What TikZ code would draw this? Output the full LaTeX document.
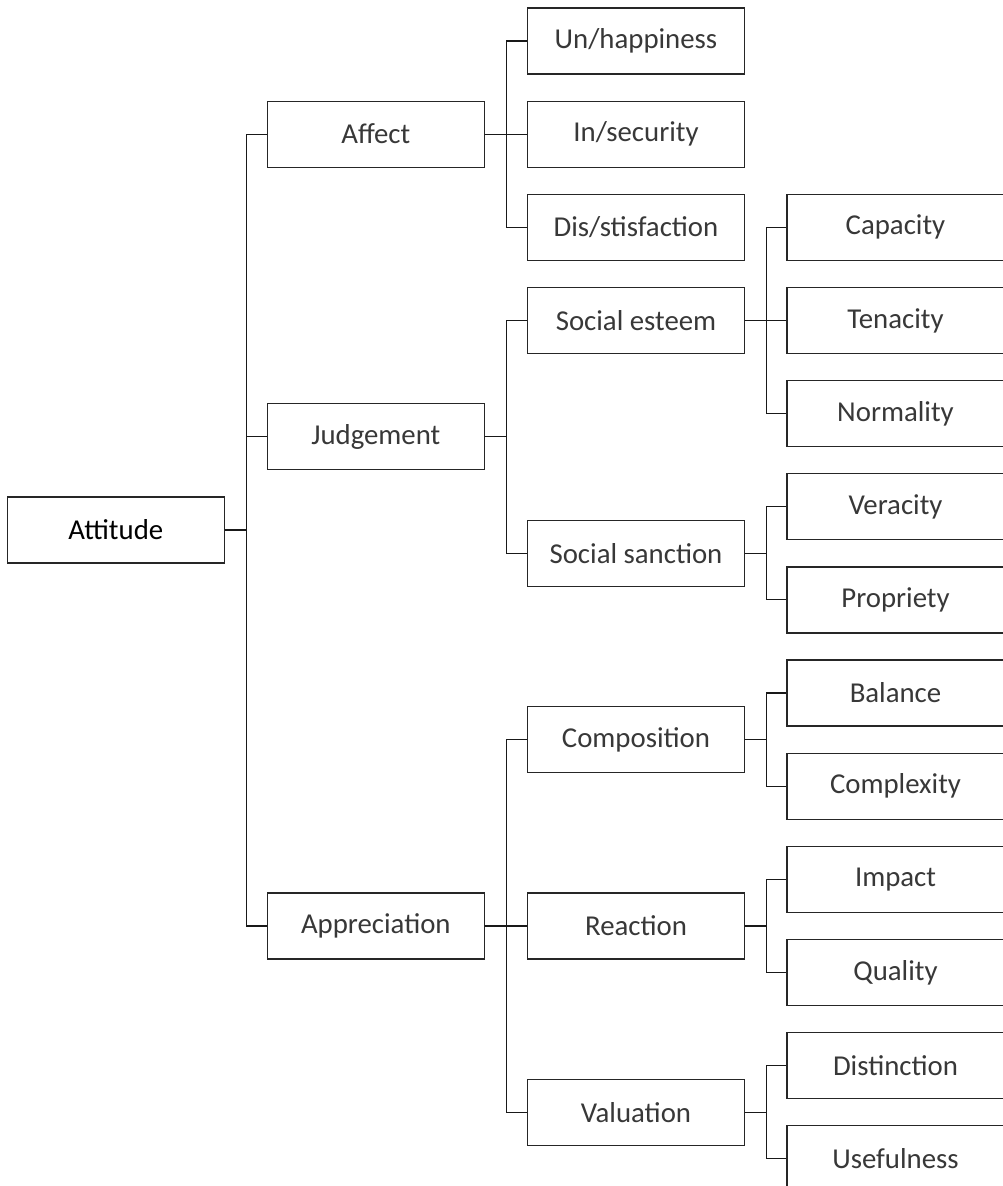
\documentclass[tikz,border=0pt]{standalone}
\usepackage{fontspec}
\setmainfont{Carlito}
\begin{document}
\begin{tikzpicture}[x=0.75pt,y=-0.75pt,
  box/.style={draw=black!85,line width=0.9pt,fill=white,
    minimum width=162.75pt,minimum height=49.5pt,inner sep=0pt,
    font=\fontsize{21.6}{25}\selectfont,text=black!78},
  rootbox/.style={box,text=black},
  link/.style={draw=black!90,line width=0.85pt}]
\useasboundingbox (0,0) rectangle (1003,1186);
\clip (0,0) rectangle (1003,1186);
% column centres and row grid
\def\cA{115.8}\def\cB{375.8}\def\cC{636}\def\cD{895.5}
\def\rowy#1{227.3+93.15*(#1)}
% root
\node[rootbox] (attitude) at (\cA,{\rowy{3.25}}) {Attitude};
% first level
\node[box] (affect)   at (\cB,{\rowy{-1}})   {Affect};
\node[box] (judge)    at (\cB,{\rowy{2.25}}) {Judgement};
\node[box] (apprec)   at (\cB,{\rowy{7.5}})  {Appreciation};
% second level
\node[box] (unhappy)  at (\cC,{\rowy{-2}})   {Un/happiness};
\node[box] (insecure) at (\cC,{\rowy{-1}})   {In/security};
\node[box] (dissat)   at (\cC,{\rowy{0}})    {Dis/stisfaction};
\node[box] (esteem)   at (\cC,{\rowy{1}})    {Social esteem};
\node[box] (sanction) at (\cC,{\rowy{3.5}})  {Social sanction};
\node[box] (compos)   at (\cC,{\rowy{5.5}})  {Composition};
\node[box] (react)    at (\cC,{\rowy{7.5}})  {Reaction};
\node[box] (valu)     at (\cC,{\rowy{9.5}})  {Valuation};
% third level
\node[box] (capacity) at (\cD,{\rowy{0}})  {Capacity};
\node[box] (tenacity) at (\cD,{\rowy{1}})  {Tenacity};
\node[box] (normal)   at (\cD,{\rowy{2}})  {Normality};
\node[box] (veracity) at (\cD,{\rowy{3}})  {Veracity};
\node[box] (propriety)at (\cD,{\rowy{4}})  {Propriety};
\node[box] (balance)  at (\cD,{\rowy{5}})  {Balance};
\node[box] (complex)  at (\cD,{\rowy{6}})  {Complexity};
\node[box] (impact)   at (\cD,{\rowy{7}})  {Impact};
\node[box] (quality)  at (\cD,{\rowy{8}})  {Quality};
\node[box] (distinct) at (\cD,{\rowy{9}})  {Distinction};
\node[box] (useful)   at (\cD,{\rowy{10}}) {Usefulness};
% bracket connectors: parent east -> bus -> child west
\foreach \p/\c in {attitude/affect,attitude/judge,attitude/apprec,
  affect/unhappy,affect/insecure,affect/dissat,
  judge/esteem,judge/sanction,
  apprec/compos,apprec/react,apprec/valu,
  esteem/capacity,esteem/tenacity,esteem/normal,
  sanction/veracity,sanction/propriety,
  compos/balance,compos/complex,
  react/impact,react/quality,
  valu/distinct,valu/useful}
  \draw[link] (\p.east) -- ++(21.4,0) |- (\c.west);
\end{tikzpicture}
\end{document}
